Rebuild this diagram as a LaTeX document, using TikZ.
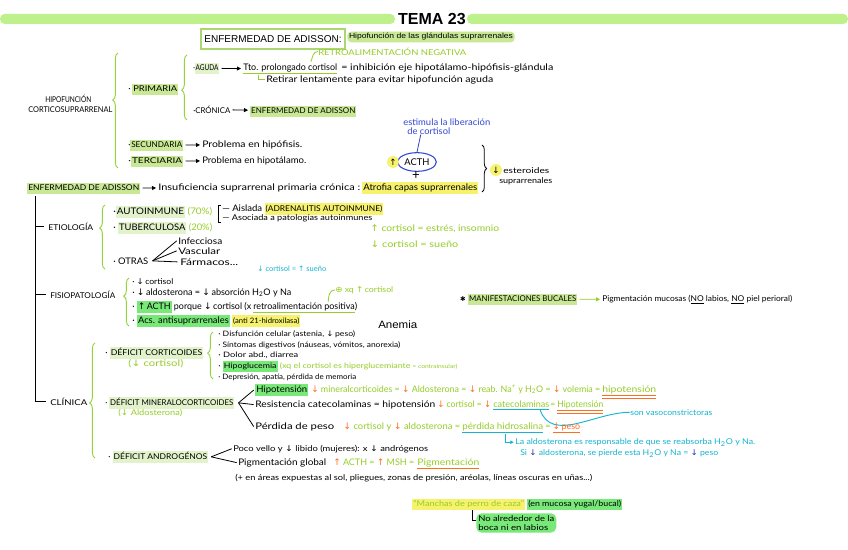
\documentclass[tikz,border=0pt]{standalone}
\usepackage{fontspec}
\usepackage{graphicx}
\setmainfont{Lato}
\newfontfamily\arialf{Liberation Sans}
\newfontfamily\djf{DejaVu Sans}
\usetikzlibrary{decorations.pathreplacing,arrows.meta,shapes.geometric}
\definecolor{barg}{RGB}{190,240,140}
\definecolor{boxg}{RGB}{170,215,110}
\definecolor{gtx}{RGB}{150,205,40}
\definecolor{gbr}{RGB}{150,210,60}
\definecolor{hlg}{RGB}{200,232,150}
\definecolor{hlp}{RGB}{226,243,204}
\definecolor{hlb}{RGB}{120,232,120}
\definecolor{hly}{RGB}{246,242,110}
\definecolor{orng}{RGB}{255,110,30}
\definecolor{cyn}{RGB}{20,180,210}
\definecolor{blu}{RGB}{50,70,210}
\definecolor{dblu}{RGB}{30,50,180}
\newcommand\W[2]{\resizebox{\dimexpr #1pt*3/4\relax}{\height}{#2}}
\newcommand\hl[2]{{\setlength\fboxsep{0.7pt}\colorbox{#1}{\strut #2}}}
\newcommand\UA{{\djf ↑}}
\newcommand\DA{{\djf ↓}}
\newcommand\od{{\color{orng}\DA}}
\newcommand\ou{{\color{orng}\UA}}
\newcommand\fa{\fontsize{6.8}{7.6}\selectfont}
\newcommand\fb{\fontsize{6}{7}\selectfont}
\newcommand\fc{\fontsize{5.6}{6.6}\selectfont}
\begin{document}
\begin{tikzpicture}[x=0.75pt,y=-0.75pt,
  hw/.style={anchor=base west,inner sep=0pt,yshift=-1.6pt,font=\fa},
  brc/.style={draw=gbr,line width=0.7pt,decorate,decoration={brace,amplitude=4pt,aspect=#1}},
  brc/.default=0.5,
  harr/.style={-{Triangle[length=3pt,width=3pt]},line width=0.6pt,shorten <=1.5pt,shorten >=1.5pt},
  lnk/.style={line width=0.6pt}]
\useasboundingbox (0,0) rectangle (848,549);
\fill[white] (0,0) rectangle (848,549);
% header
\fill[barg,rounded corners=3.5pt] (0,14) rectangle (395,24);
\fill[barg,rounded corners=3.5pt] (467,14) rectangle (848,24);
\node[font=\arialf\bfseries\fontsize{12}{14}\selectfont,inner sep=0pt] (tema) at (432,19) {TEMA 23};
\node[draw=boxg,line width=1.1pt,inner sep=0pt,minimum width=108pt,minimum height=15pt,font=\arialf\fontsize{7.5}{9}\selectfont] (box) at (273,39) {ENFERMEDAD DE ADISSON:};
\node[fill=hlg,rounded corners=3pt,inner sep=1.3pt,font=\arialf\fontsize{5.6}{6.5}\selectfont] (pill) at (431,37) {\W{164}{Hipofunción de las glándulas suprarrenales}};
% hipofuncion
\node[hw,font=\fb] (hipoA) at (45,100) {\W{46}{HIPOFUNCIÓN}};
\node[hw,font=\fb] (hipoB) at (28,110) {\W{84}{CORTICOSUPRARRENAL}};
\draw[brc=0.59] (118,168) -- (118,53);
\node[hw,font=\fb] (prim) at (128,89) {\W{50}{·\,\hl{hlg}{PRIMARIA}}};
\draw[brc=0.46] (187,120) -- (187,55);
\node[hw,font=\fb] (aguda) at (193,68) {\W{26}{·\hl{hlp}{AGUDA}}};
\node[hw] (tto1) at (243,68) {\W{94}{{\color{gtx}\underline{\color{black}Tto. prolongado cortisol}}}};
\node[hw] (tto2) at (341,68) {\W{212}{= inhibición eje hipotálamo-hipófisis-glándula}};
\draw[harr] (aguda) -- (tto1);
\node[hw,font=\fb] (retro) at (318,53) {\W{148}{\color{gtx}RETROALIMENTACIÓN NEGATIVA}};
\draw[gtx,lnk] ([xshift=-20pt,yshift=1pt]tto1.north east) to[out=70,in=180] (retro.west);
\node[hw] (retirar) at (266,80) {\W{227}{Retirar lentamente para evitar hipofunción aguda}};
\draw[gtx,lnk] ([xshift=11.25pt]tto1.south west) |- ([xshift=-1pt]retirar.west);
\node[hw,font=\fb] (cron) at (193,111) {\W{37}{·CRÓNICA}};
\node[hw,font=\fb] (enfA) at (250,111) {\W{106}{\hl{hlg}{ENFERMEDAD DE ADISSON}}};
\draw[harr] (cron) -- (enfA);
\node[hw,font=\fb] (secu) at (128,145) {\W{55}{·\hl{hlg}{SECUNDARIA}}};
\node[hw] (probA) at (202,145) {\W{100}{Problema en hipófisis.}};
\draw[harr] (secu) -- (probA);
\node[hw,font=\fb] (terc) at (128,161) {\W{55}{·\hl{hlg}{TERCIARIA}}};
\node[hw] (probB) at (202,161) {\W{104}{Problema en hipotálamo.}};
\draw[harr] (terc) -- (probB);
% ACTH
\node[hw] (estA) at (403,123) {\W{87}{\color{blu}estimula la liberación}};
\node[hw] (estB) at (407,132) {\W{43}{\color{blu}de cortisol}};
\node[draw=blu,ellipse,line width=0.8pt,minimum width=29pt,minimum height=14pt,inner sep=0pt,font=\fontsize{7}{8}\selectfont] (acth) at (417,162) {ACTH};
\draw[blu,lnk] ([xshift=-6pt]estB.south) -- (acth.north);
\node[circle,fill=hly,inner sep=0.6pt,font=\djf\fontsize{6.5}{7}\selectfont] (upA) at (393,162) {↑};
\node[inner sep=0pt,font=\fontsize{10}{11}\selectfont] (plus) at (416,176) {+};
\draw[line width=0.6pt,decorate,decoration={brace,amplitude=3.5pt,aspect=0.5}] (482,145) -- (482,192);
\node[circle,fill=hly,inner sep=0.6pt,font=\djf\fontsize{6.5}{7}\selectfont] (dnA) at (496,170) {↓};
\node[hw,font=\fb] (ester) at (503,171) {\W{46}{esteroides}};
\node[hw,font=\fb] (supr) at (499,181) {\W{53}{suprarrenales}};
% Enfermedad de Adisson line
\node[hw,font=\fb] (enfB) at (27,188) {\W{113}{\hl{hlg}{ENFERMEDAD DE ADISSON}}};
\node[hw] (ins) at (158,188) {\W{202}{Insuficiencia suprarrenal primaria crónica :}};
\node[hw] (atro) at (362,188) {\W{116}{\hl{hly}{Atrofia capas suprarrenales}}};
\draw[harr] (enfB) -- (ins);
% left tree
\coordinate (vtop) at (35,196);
\node[hw,font=\fb] (etio) at (48,228) {\W{45}{ETIOLOGÍA}};
\node[hw,font=\fb] (fisio) at (50,296) {\W{65}{FISIOPATOLOGÍA}};
\node[hw,font=\fb] (clin) at (50,403) {\W{37}{CLÍNICA}};
\draw[line width=0.7pt] (vtop) |- ([xshift=-3pt]clin.west);
\draw[line width=0.7pt] (vtop |- etio.west) -- ([xshift=-3pt]etio.west);
\draw[line width=0.7pt] (vtop |- fisio.west) -- ([xshift=-3pt]fisio.west);
% etiologia
\draw[brc=0.64] (105,269) -- (105,205);
\node[hw] (auto) at (113,212) {\W{99}{·\hl{hlp}{AUTOINMUNE} {\color{gtx}(70\%)}}};
\node[hw] (tub) at (113,228) {\W{99}{·\ \hl{hlp}{TUBERCULOSA} {\color{gtx}(20\%)}}};
\node[hw] (otras) at (113,262) {\W{35}{·\ OTRAS}};
\node[hw] (infe) at (178,242) {\W{44}{Infecciosa}};
\node[hw] (vasc) at (178,252) {\W{42}{Vascular}};
\node[hw] (farm) at (180,263) {\W{58}{Fármacos...}};
\coordinate (fo) at ([xshift=3pt]otras.east);
\draw[lnk] (fo) -- ([xshift=-1pt]infe.west);
\draw[lnk] (fo) -- ([xshift=-1pt]vasc.west);
\draw[lnk] (fo) -- ([xshift=-2pt]farm.west);
\draw[lnk] (221,205) -- (218,205) -- (218,222) -- (221,222);
\node[hw] (aisl) at (222,209) {\W{161}{— Aislada \hl{hly}{{\fb (ADRENALITIS AUTOINMUNE)}}}};
\node[hw,font=\fb] (asoc) at (222,218) {\W{150}{— Asociada a patologías autoinmunes}};
\node[hw] (grA) at (370,229) {\W{129}{\color{gtx}\UA\ cortisol = estrés, insomnio}};
\node[hw] (grB) at (370,245) {\W{88}{\color{gtx}\DA\ cortisol = sueño}};
\node[hw,font=\fc] (cya) at (257,269) {\W{69}{\color{cyn}\DA\ cortisol = \UA\ sueño}};
% fisiopatologia
\draw[brc=0.62] (129,326) -- (129,278);
\node[hw,font=\fb] (f1) at (132,282) {\W{41}{· \DA\,cortisol}};
\node[hw] (f2) at (132,293) {\W{159}{· \DA\,aldosterona = \DA\,absorción H\textsubscript{2}O y Na}};
\node[hw] (f3a) at (132,307) {\W{119}{· \hl{hlb}{\UA\,ACTH} porque \DA\,cortisol (x}};
\node[hw] (f3b) at (253,307) {\W{104}{{\color{gtx}\underline{\color{black}retroalimentación positiva}})}};
\node[hw,font=\fb] (xq) at (335,290) {\W{58}{\color{gtx}{\djf ⊕} xq \UA\,cortisol}};
\draw[gtx,lnk] ([xshift=-22pt]f3b.north east) to[out=90,in=180] (xq.west);
\node[hw] (f4) at (132,321) {\W{168}{· \hl{hlb}{Acs. antisuprarrenales} \hl{hly}{{\fc (anti 21-hidroxilasa)}}}};
\node[hw,font=\arialf\fontsize{8}{9}\selectfont] (anem) at (378,326) {\W{39}{Anemia}};
% manifestaciones bucales
\node[inner sep=0pt,font=\djf\fontsize{5}{6}\selectfont] (star) at (463,299) {✱};
\node[hw,font=\fb] (man) at (468,299) {\W{109}{\hl{hlg}{MANIFESTACIONES BUCALES}}};
\node[hw,font=\fb] (pig) at (602,299) {\W{190}{Pigmentación mucosas (\underline{NO} labios, \underline{NO} piel perioral)}};
\draw[harr,gtx] (man) -- (pig);
% clinica
\draw[brc=0.48] (95,458) -- (95,343);
\node[hw,font=\fb] (dcort) at (105,353) {\W{98}{· \hl{hlp}{DÉFICIT CORTICOIDES}}};
\node[hw] (dcs) at (128,364) {\W{55}{\color{gtx}(\DA\ cortisol)}};
\draw[brc=0.55] (213,379) -- (213,332);
\node[hw,font=\fc] (d1) at (218,334) {\W{137}{· Disfunción celular (astenia, \DA\,peso)}};
\node[hw,font=\fc] (d2) at (218,345) {\W{182}{· Síntomas digestivos (náuseas, vómitos, anorexia)}};
\node[hw,font=\fc] (d3) at (218,355) {\W{80}{· Dolor abd., diarrea}};
\node[hw,font=\fc] (d4) at (218,366) {\W{239}{· \hl{hlb}{Hipoglucemia} {\color{gtx}(xq el cortisol es hiperglucemiante {\fontsize{4.2}{5}\selectfont = contrainsular)}}}};
\node[hw,font=\fc] (d5) at (218,377) {\W{138}{· Depresión, apatía, pérdida de memoria}};
\node[hw,font=\fb] (dmin) at (105,403) {\W{129}{· \hl{hlp}{DÉFICIT MINERALOCORTICOIDES}}};
\node[hw,font=\fb] (dmA) at (118,413) {\W{64}{\color{gtx}(\DA\ Aldosterona)}};
\node[hw] (hA) at (255,390) {\W{53}{\hl{hlb}{Hipotensión}}};
\node[hw] (hB) at (311,390) {\W{289}{\od\ {\color{gtx}mineralcorticoides =} \od\ {\color{gtx}Aldosterona =} \od\ {\color{gtx}reab. Na\textsuperscript{+} y H\textsubscript{2}O =} \od\ {\color{gtx}volemia =}}};
\node[hw] (hC) at (602,390) {\W{54}{{\color{orng}\underline{\underline{\color{gtx}hipotensión}}}}};
\node[hw] (rA) at (255,405) {\W{180}{Resistencia catecolaminas = hipotensión}};
\node[hw] (rB) at (437,405) {\W{54}{\od\ {\color{gtx}cortisol =} \od}};
\node[hw] (rC) at (493,405) {\W{56}{{\color{cyn}\underline{\color{gtx}catecolaminas}}}};
\node[hw] (rD) at (550,405) {\W{53}{{\color{gtx}=} {\color{orng}\underline{\underline{\color{gtx}Hipotensión}}}}};
\node[hw,font=\fb] (son) at (630,413) {\W{82}{\color{cyn}son vasoconstrictoras}};
\draw[cyn,line width=0.7pt] ([xshift=-7pt]rC.south east) to[out=-70,in=180] (son.west);
\node[hw] (pA) at (255,427) {\W{79}{Pérdida de peso}};
\node[hw] (pB) at (343,427) {\W{117}{\od\ {\color{gtx}cortisol y} \od\ {\color{gtx}aldosterona =}}};
\node[hw] (pC) at (462,427) {\W{81}{{\color{cyn}\underline{\color{gtx}pérdida hidrosalina}}}};
\node[hw] (pD) at (545,427) {\W{35}{{\color{gtx}=} {\color{orng}\underline{\DA\,peso}}}};
\coordinate (fm) at ([xshift=3pt]dmin.east);
\draw[lnk] (fm) -- ([xshift=-1pt]hA.west);
\draw[lnk] (fm) -- ([xshift=-1pt]rA.west);
\draw[lnk] (fm) -- ([xshift=-1pt]pA.west);
\node[hw,font=\fb] (laA) at (515,442) {\W{240}{\color{cyn}La aldosterona es responsable de que se reabsorba H\textsubscript{2}O y Na.}};
\node[hw,font=\fb] (laB) at (520,453) {\W{198}{\color{cyn}Si {\color{dblu}\DA} aldosterona, se pierde esta H\textsubscript{2}O y Na = {\color{dblu}\DA} peso}};
\draw[cyn,line width=0.6pt,-{Triangle[length=2.5pt,width=2.5pt]}] ([xshift=-28.5pt]pC.south east) |- ([xshift=-1pt]laA.west);
\node[hw,font=\fb] (dand) at (108,457) {\W{100}{· \hl{hlp}{DÉFICIT ANDROGÉNOS}}};
\node[hw,font=\fb] (aA) at (233,449) {\W{195}{Poco vello y \DA\ libido (mujeres): x \DA\ andrógenos}};
\node[hw] (aB) at (238,463) {\W{88}{Pigmentación global}};
\node[hw] (aC) at (333,463) {\W{81}{\ou\ {\color{gtx}ACTH =} \ou\ {\color{gtx}MSH =}}};
\node[hw] (aD) at (417,463) {\W{62}{{\color{orng}\underline{\color{gtx}Pigmentación}}}};
\node[hw,font=\fb] (aE) at (235,478) {\W{357}{(+ en áreas expuestas al sol, pliegues, zonas de presión, aréolas, líneas oscuras en uñas...)}};
\coordinate (fd) at ([xshift=2pt]dand.east);
\draw[lnk] (fd) -- ([xshift=-1pt]aA.west);
\draw[lnk] (fd) -- ([xshift=-1pt]aB.west);
% manchas
\node[hw,font=\fb] (manch) at (412,504) {\W{113}{\hl{hly}{\color{gtx}“Manchas de perro de caza”}}};
\node[hw,font=\fb] (muc) at (527,504) {\W{95}{\hl{hlb}{(en mucosa yugal/bucal)}}};
\node[fill=hlb,rounded corners=4pt,inner sep=1.5pt,anchor=north west,align=left,font=\fb] (nob) at (476,513) {\W{76}{No alrededor de la}\\\W{70}{boca ni en labios}};
\draw[lnk] ([xshift=-40pt]manch.south east) |- ([yshift=2pt]nob.west);
\end{tikzpicture}
\end{document}
